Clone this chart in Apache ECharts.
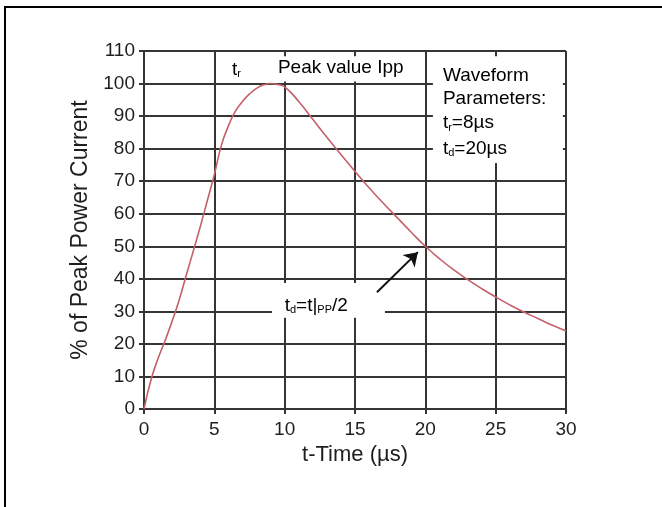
<!DOCTYPE html>
<html>
<head>
<meta charset="utf-8">
<script src="https://cdn.jsdelivr.net/npm/echarts@6/dist/echarts.min.js"></script>
<style>
    html, body { margin: 0; padding: 0; background: #fff; }
    #chart { width: 662px; height: 507px; }
</style>
</head>
<body>
<div id="chart"></div>
<script>
// 8/20 µs surge waveform
const timeUs = [0, 0.5, 1, 1.5, 2, 2.5, 3, 3.5, 4, 4.5, 5, 5.5, 6, 6.5, 7, 7.5, 8, 8.5, 9, 9.5, 10,
    11, 12, 13, 14, 15, 16, 17, 18, 19, 20, 21, 22, 23, 24, 25, 26, 27, 28, 29, 30];
const peakPct = [0, 9, 15.5, 21, 27, 33.5, 41, 48.5, 56, 64, 72, 81, 87, 91.5, 94.5, 96.8, 98.5, 99.6, 100, 99.7, 99,
    94.5, 89, 83.5, 78.2, 73, 68, 63.3, 58.8, 54.3, 50, 46.2, 42.8, 39.8, 37, 34.4, 32, 29.8, 27.8, 25.8, 24];

const FONT = 'Liberation Sans, Arial, sans-serif';
const TXT = '#1e1e1e';
const GRID = '#353535';

const chart = echarts.init(document.getElementById('chart'));

const curve = timeUs.map((t, i) => [t, peakPct[i]]);

// extra axes only for the inward ticks on top and right edges
const tickAxis = {
    min: 0, show: true,
    axisLine: { show: false },
    axisLabel: { show: false },
    splitLine: { show: false },
    axisTick: { show: true, inside: true, length: 5, lineStyle: { color: GRID, width: 2 } },
    z: 3
};

const option = {
    animation: false,
    grid: { left: 144, right: 96, top: 51, bottom: 98, containLabel: false, outerBoundsMode: 'none' },
    xAxis: [{
        type: 'value', min: 0, max: 30, interval: 5,
        name: 't-Time (µs)', nameLocation: 'middle', nameGap: 34,
        nameTextStyle: { fontFamily: FONT, fontSize: 22, color: TXT },
        axisLine: { show: true, lineStyle: { color: GRID, width: 2 } },
        axisTick: { show: false },
        axisLabel: { fontFamily: FONT, fontSize: 19, color: TXT, margin: 11 },
        splitLine: { show: true, lineStyle: { color: GRID, width: 2 } }
    }, Object.assign({}, tickAxis, { type: 'value', position: 'top', max: 30, interval: 5 })],
    yAxis: [{
        type: 'value', min: 0, max: 110, interval: 10,
        name: '% of Peak Power Current', nameLocation: 'middle', nameGap: 45,
        nameTextStyle: { fontFamily: FONT, fontSize: 23, color: TXT },
        axisLine: { show: true, lineStyle: { color: GRID, width: 2 } },
        axisTick: { show: false },
        axisLabel: { fontFamily: FONT, fontSize: 19, color: TXT, margin: 9 },
        splitLine: { show: true, lineStyle: { color: GRID, width: 2 } }
    }, Object.assign({}, tickAxis, { type: 'value', position: 'right', max: 110, interval: 10 })],
    series: [{
        type: 'line',
        data: curve,
        smooth: 0.5,
        showSymbol: false,
        lineStyle: { color: '#c4606a', width: 1.6 },
        // white boxes behind the annotations
        markArea: {
            silent: true,
            itemStyle: { color: '#fff', opacity: 1 },
            label: { show: false },
            data: [
                [{ coord: [5.54, 100.6] }, { coord: [19.9, 108.4] }],
                [{ coord: [20.54, 75.6] }, { coord: [29.78, 108.4] }],
                [{ coord: [9.1, 28] }, { coord: [17.13, 38.7] }]
            ]
        },
        markLine: {
            silent: true,
            symbol: ['none', 'arrow'],
            symbolSize: 13,
            label: { show: false },
            lineStyle: { color: '#111', width: 2, type: 'solid' },
            data: [[{ coord: [16.56, 35.9] }, { coord: [19.47, 48.2] }]]
        }
    }]
};

chart.setOption(option);

// annotation texts, placed in data coordinates
const px = (x, y) => chart.convertToPixel({ gridIndex: 0 }, [x, y]);
const rich = {
    n: { fontFamily: FONT, fontSize: 19, color: TXT },
    s: { fontFamily: FONT, fontSize: 11, color: TXT, verticalAlign: 'bottom', padding: [9, 0, 0, 0] }
};
function label(x, y, text) {
    const p = px(x, y);
    return {
        type: 'text', x: p[0], y: p[1], z: 10,
        style: { text: text, rich: rich, verticalAlign: 'middle', align: 'left' }
    };
}

chart.setOption({
    graphic: [
        { type: 'line', shape: { x1: 5, y1: 7, x2: 5, y2: 507 }, style: { stroke: '#000', lineWidth: 2 } },
        { type: 'line', shape: { x1: 4, y1: 7, x2: 662, y2: 7 }, style: { stroke: '#000', lineWidth: 2 } },
        label(6.25, 104.3, '{n|t}{s|r}'),
        label(9.52, 104.8, '{n|Peak value Ipp}'),
        label(21.25, 102.5, '{n|Waveform}'),
        label(21.25, 95.4, '{n|Parameters:}'),
        label(21.25, 87.8, '{n|t}{s|r}{n|=8µs}'),
        label(21.25, 80.1, '{n|t}{s|d}{n|=20µs}'),
        label(10.0, 31.8, '{n|t}{s|d}{n|=t|}{s|PP}{n|/2}')
    ]
});
</script>
</body>
</html>
